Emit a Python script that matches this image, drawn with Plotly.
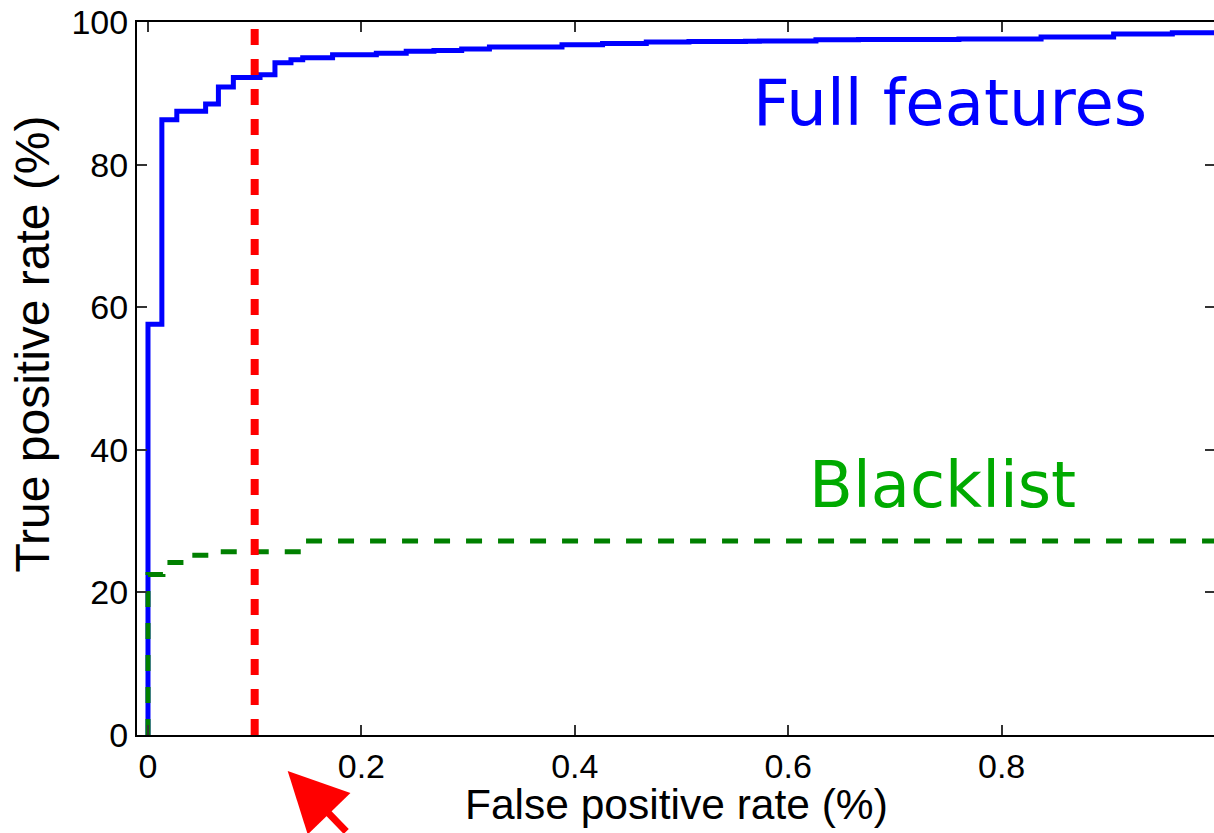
import plotly.graph_objects as go

# ROC data (false positive rate %, true positive rate %)
full_fpr = [0.000, 0.000, 0.013, 0.027, 0.054, 0.066, 0.080, 0.105, 0.119, 0.134, 0.145, 0.173,
            0.214, 0.242, 0.268, 0.294, 0.320, 0.388, 0.426, 0.467, 0.507, 0.560, 0.573, 0.626,
            0.666, 0.760, 0.837, 0.905, 0.960, 1.000]
full_tpr = [0.0, 57.6, 86.3, 87.5, 88.5, 90.9, 92.2, 92.6, 94.3, 94.7, 95.0, 95.4,
            95.6, 95.9, 96.0, 96.2, 96.5, 96.8, 97.0, 97.2, 97.25, 97.3, 97.35, 97.5,
            97.55, 97.6, 97.9, 98.3, 98.5, 98.5]

bl_fpr = [0.000, 0.000, 0.014, 0.040, 0.066, 0.145, 1.000]
bl_tpr = [0.0, 22.5, 24.2, 25.2, 25.7, 27.2, 27.2]

threshold_fpr = 0.1

x_ticks = [0, 0.2, 0.4, 0.6, 0.8, 1]
x_tick_text = ["0", "0.2", "0.4", "0.6", "0.8", "1"]
y_ticks = [0, 20, 40, 60, 80, 100]

fig = go.Figure()
fig.add_trace(go.Scatter(x=full_fpr, y=full_tpr, mode="lines", line_shape="hv",
                         line=dict(color="#0000ff", width=5), name="Full features"))
fig.add_trace(go.Scatter(x=bl_fpr, y=bl_tpr, mode="lines", line_shape="hv",
                         line=dict(color="#008000", width=5, dash="16px,16px"), name="Blacklist"))
fig.add_trace(go.Scatter(x=[threshold_fpr, threshold_fpr], y=[0, 100], mode="lines",
                         line=dict(color="#ff0000", width=8, dash="16px,14px"), name="threshold"))

tickfont = dict(family="Liberation Sans, Arial, sans-serif", size=34, color="black")
fig.update_xaxes(range=[-0.0103, 1.0], tickvals=x_ticks, ticktext=x_tick_text,
                 ticks="inside", ticklen=10, tickwidth=1.5, tickcolor="#333",
                 showline=True, linecolor="black", linewidth=2, mirror="allticks",
                 showgrid=False, zeroline=False, tickfont=tickfont)
fig.update_yaxes(range=[0, 100], tickvals=y_ticks,
                 ticks="inside", ticklen=10, tickwidth=1.5, tickcolor="#333",
                 showline=True, linecolor="black", linewidth=2, mirror="allticks",
                 showgrid=False, zeroline=False, tickfont=tickfont)

fig.add_annotation(text="Full features", xref="paper", yref="paper", x=0.7546, y=0.886,
                   showarrow=False, xanchor="center", yanchor="middle",
                   font=dict(family="DejaVu Sans", size=64, color="#0000ff"))
fig.add_annotation(text="Blacklist", xref="paper", yref="paper", x=0.7475, y=0.35,
                   showarrow=False, xanchor="center", yanchor="middle",
                   font=dict(family="DejaVu Sans", size=64, color="#00aa00"))
fig.add_annotation(text="False positive rate (%)", xref="paper", yref="paper", x=0.5000, y=-0.098,
                   showarrow=False, xanchor="center", yanchor="middle",
                   font=dict(family="Liberation Sans, Arial, sans-serif", size=42.5, color="black"))
fig.add_annotation(text="True positive rate (%)", xref="paper", yref="paper", x=-0.0972, y=0.548,
                   showarrow=False, xanchor="center", yanchor="middle", textangle=-90,
                   font=dict(family="Liberation Sans, Arial, sans-serif", size=48, color="black"))
fig.add_annotation(text="", xref="paper", yref="paper", x=0.1398, y=-0.0505,
                   showarrow=True, ax=60, ay=64, arrowcolor="#ff0000", arrowwidth=7,
                   arrowhead=2, arrowsize=1.7)

fig.update_layout(width=1217, height=833, margin=dict(l=137, r=0, t=22, b=98),
                  plot_bgcolor="white", paper_bgcolor="white", showlegend=False)

fig.write_html("out.html", config={"displayModeBar": False},
               post_script="document.body.style.margin='0';document.body.style.overflow='hidden';")
